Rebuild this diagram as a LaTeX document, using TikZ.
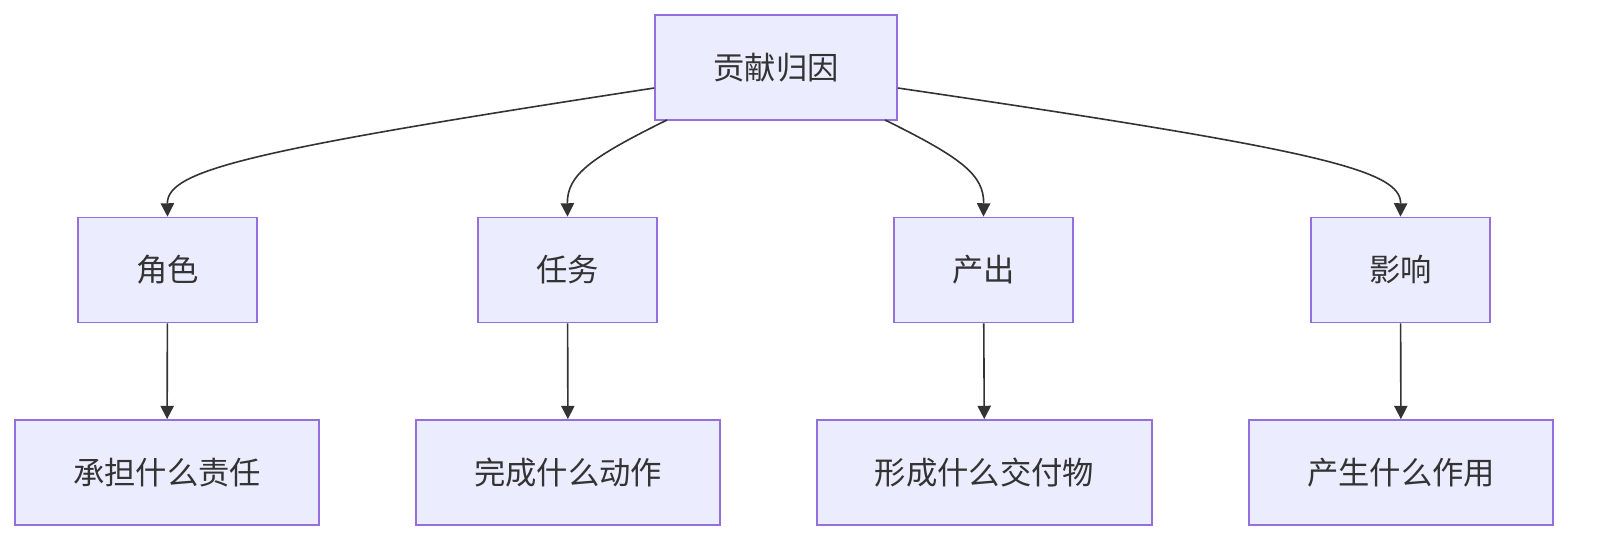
\documentclass[tikz,border=0pt]{standalone}
\usepackage{fontspec}
\newfontfamily\cjk{Noto Sans CJK SC}
\usetikzlibrary{arrows.meta}
\definecolor{nfill}{HTML}{ECECFF}
\definecolor{nline}{HTML}{9370DB}
\definecolor{eline}{HTML}{333333}
\begin{document}
\begin{tikzpicture}[x=0.75pt,y=-0.75pt,
  box/.style={draw=nline,fill=nfill,line width=1.1pt,inner sep=0pt,minimum height=79pt,font=\cjk\fontsize{23.5}{26}\selectfont,text=eline},
  conn/.style={draw=eline,line width=1.2pt,-{Triangle[length=10pt,width=10pt]}}]
\node[box,minimum width=181.5pt] (top) at (776,67.5) {贡献归因};
\node[box,minimum width=134pt] (a) at (167.5,270) {角色};
\node[box,minimum width=134pt] (b) at (567.5,270) {任务};
\node[box,minimum width=134pt] (c) at (983.5,270) {产出};
\node[box,minimum width=134pt] (d) at (1400.5,270) {影响};
\node[box,minimum width=228pt] (a2) at (167,472.5) {承担什么责任};
\node[box,minimum width=228pt] (b2) at (568,472.5) {完成什么动作};
\node[box,minimum width=251pt] (c2) at (984.5,472.5) {形成什么交付物};
\node[box,minimum width=228pt] (d2) at (1401,472.5) {产生什么作用};
\draw[conn] (top.west |- 0,88) .. controls (250,150) and (167,170) .. (a.north);
\draw[conn] (667,120) .. controls (590,158) and (567,175) .. (b.north);
\draw[conn] (885,120) .. controls (962,158) and (984,175) .. (c.north);
\draw[conn] (top.east |- 0,88) .. controls (1320,150) and (1401,170) .. (d.north);
\draw[conn] (a) -- (a2);
\draw[conn] (b) -- (b2);
\draw[conn] (c) -- (c2);
\draw[conn] (d) -- (d2);
\pgfresetboundingbox
\useasboundingbox (0,0) rectangle (1612,556);
\end{tikzpicture}
\end{document}
